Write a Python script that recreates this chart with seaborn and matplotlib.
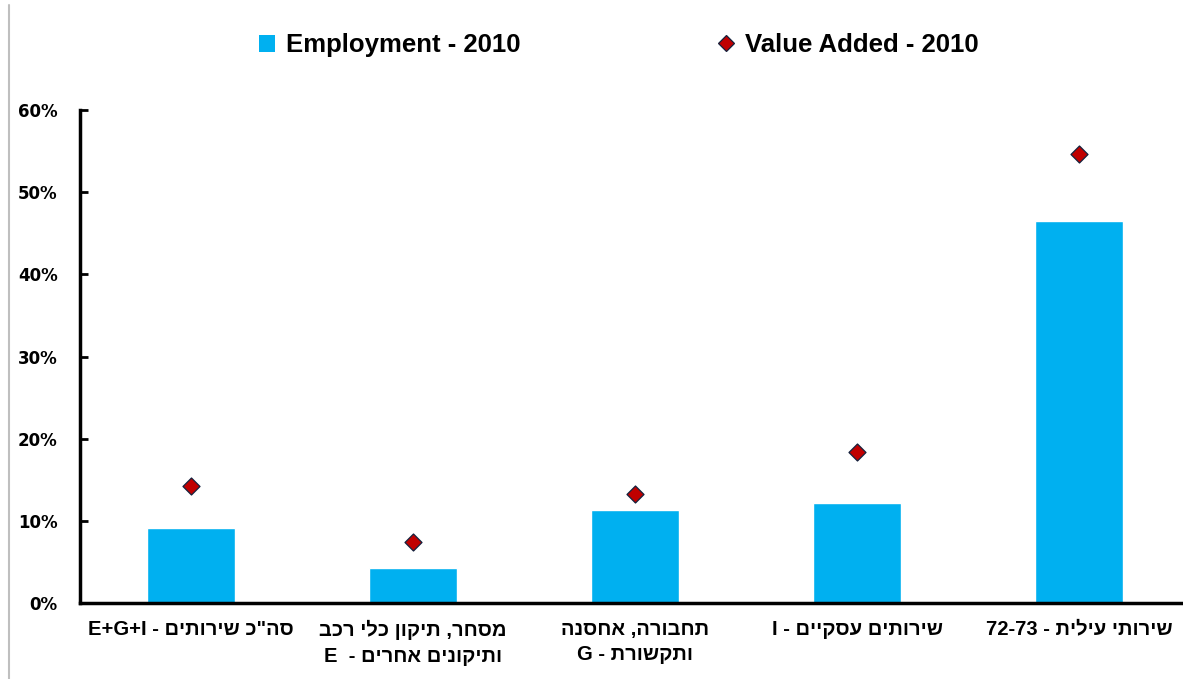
import re
import matplotlib
matplotlib.use("Agg")
import matplotlib.pyplot as plt
from matplotlib.patches import Patch
from matplotlib.lines import Line2D
from matplotlib.ticker import PercentFormatter
import seaborn as sns
import pandas as pd

categories = [
    'סה"כ שירותים - E+G+I',
    'מסחר, תיקון כלי רכב\nותיקונים אחרים -  E',
    'תחבורה, אחסנה\nותקשורת - G',
    'שירותים עסקיים - I',
    'שירותי עילית - 72-73',
]
employment = [9.1, 4.3, 11.3, 12.2, 46.5]
value_added = [14.3, 7.4, 13.3, 18.4, 54.6]
series_names = ['Employment - 2010', 'Value Added - 2010']
y_ticks = [0, 10, 20, 30, 40, 50, 60]


def visual(s):
    # convert logical RTL text to visual order for LTR rendering
    lines = []
    for line in s.split('\n'):
        r = line[::-1]
        r = re.sub(r'[A-Za-z0-9+\-]+', lambda m: m.group(0)[::-1], r)
        lines.append(r)
    return '\n'.join(lines)


sns.set_theme(style="white")
plt.rcParams['font.family'] = ['Liberation Sans', 'DejaVu Sans']
plt.rcParams['text.color'] = 'black'

keys = [f"c{i}" for i in range(len(categories))]
df = pd.DataFrame({'cat': keys, 'emp': employment, 'va': value_added})

fig = plt.figure(figsize=(11.83, 6.79), dpi=100)
ax = fig.add_axes([80 / 1183, 76 / 679, 1110 / 1183, 493 / 679])

sns.barplot(data=df, x='cat', y='emp', color='#00B0F0', saturation=1,
            width=0.4, ax=ax, zorder=2)
sns.scatterplot(data=df, x='cat', y='va', marker='D', s=75, color='#C00000',
                edgecolor='#14213D', linewidth=0.9, ax=ax, zorder=3)

ax.set_xlim(-0.5, len(categories) - 0.5)
ax.set_ylim(0, 60)
ax.set_yticks(y_ticks)
ax.yaxis.set_major_formatter(PercentFormatter(decimals=0))
ax.set_xticks(range(len(categories)))
ax.set_xticklabels([visual(c) for c in categories])
ax.tick_params(axis='y', left=True, direction='in', length=6, width=2,
               color='black', labelcolor='black', pad=16)
ax.tick_params(axis='x', bottom=False, length=0, pad=12, labelcolor='black')
for lab in ax.get_xticklabels():
    lab.set_family(['Liberation Sans', 'DejaVu Sans'])
    lab.set_fontweight('bold')
    lab.set_fontsize(14.5)
    lab.set_multialignment('center')
    lab.set_linespacing(1.45)
for lab in ax.get_yticklabels():
    lab.set_family('DejaVu Sans')
    lab.set_fontweight('bold')
    lab.set_fontsize(12)
ax.set_xlabel('')
ax.set_ylabel('')
for side in ['top', 'right']:
    ax.spines[side].set_visible(False)
for side in ['left', 'bottom']:
    ax.spines[side].set_color('black')
    ax.spines[side].set_linewidth(2.5)
ax.grid(False)

handles = [
    Patch(facecolor='#00B0F0', edgecolor='none'),
    Line2D([], [], marker='D', linestyle='none', markersize=8,
           markerfacecolor='#C00000', markeredgecolor='#14213D', markeredgewidth=0.9),
]
fig.legend(handles, series_names, loc='center', bbox_to_anchor=(0.523, 0.933),
           ncol=2, frameon=False, columnspacing=7.7, handlelength=0.65,
           handletextpad=0.4, labelcolor='black',
           prop={'family': ['Liberation Sans Narrow', 'Liberation Sans'],
                 'weight': 'bold', 'size': 18.5})

fig.add_artist(Line2D([9 / 1183, 9 / 1183], [0, 1 - 5 / 679], transform=fig.transFigure,
                      color='#BFBFBF', linewidth=1.5))

fig.savefig('out.png', dpi=100)
